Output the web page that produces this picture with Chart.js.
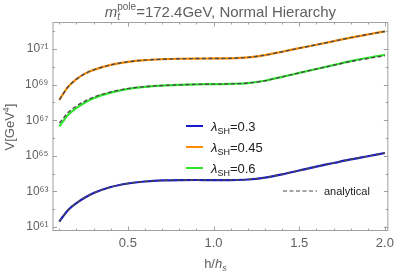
<!DOCTYPE html>
<html><head><meta charset="utf-8">
<script src="https://cdn.jsdelivr.net/npm/chart.js@4.4.1/dist/chart.umd.min.js"></script>
<style>html,body{margin:0;padding:0;background:#fff;}#wrap{width:399px;height:275px;position:relative;}</style>
</head><body><div id="wrap"><canvas id="c" width="399" height="275"></canvas></div>
<script>
// ---- data ----
const hValues = [0.10,0.12,0.15,0.20,0.25,0.30,0.40,0.50,0.60,0.70,0.80,0.90,1.00,1.10,1.20,1.30,1.40,1.50,1.60,1.70,1.80,1.90,2.00];
const V_lambda030 = [2.04e61,3.80e61,8.91e61,2.24e62,4.57e62,8.13e62,1.78e63,2.82e63,3.63e63,4.17e63,4.37e63,4.40e63,4.35e63,4.38e63,4.70e63,6.03e63,9.12e63,1.51e64,2.51e64,3.98e64,6.31e64,9.55e64,1.45e65];
const V_lambda045 = [1.41e68,2.82e68,7.41e68,2.04e69,4.17e69,6.76e69,1.29e70,1.91e70,2.40e70,2.69e70,2.86e70,2.93e70,2.96e70,3.02e70,3.39e70,4.57e70,7.08e70,1.12e71,1.74e71,2.75e71,4.37e71,6.61e71,9.77e71];
const V_lambda060 = [4.47e66,8.32e66,2.00e67,4.90e67,1.00e68,1.74e68,3.55e68,5.75e68,7.59e68,8.91e68,9.77e68,1.04e69,1.07e69,1.11e69,1.23e69,1.66e69,2.75e69,4.57e69,7.59e69,1.26e70,2.09e70,3.24e70,4.79e70];
const Vana_lambda030 = [2.04e61,3.80e61,8.91e61,2.24e62,4.57e62,8.13e62,1.78e63,2.82e63,3.63e63,4.17e63,4.37e63,4.40e63,4.35e63,4.38e63,4.70e63,6.03e63,9.12e63,1.51e64,2.51e64,3.98e64,6.31e64,9.55e64,1.45e65];
const Vana_lambda045 = [1.41e68,2.82e68,7.41e68,2.04e69,4.17e69,6.76e69,1.29e70,1.91e70,2.40e70,2.69e70,2.86e70,2.93e70,2.96e70,3.02e70,3.39e70,4.57e70,7.08e70,1.12e71,1.74e71,2.75e71,4.37e71,6.61e71,9.77e71];
const Vana_lambda060 = [7.08e66,1.20e67,2.69e67,6.31e67,1.20e68,2.00e68,3.89e68,6.03e68,7.76e68,8.91e68,9.77e68,1.04e69,1.07e69,1.11e69,1.23e69,1.66e69,2.75e69,4.57e69,7.59e69,1.23e70,2.00e70,2.95e70,4.27e70];
const legendLabels = ['0.3','0.45','0.6'];
const xTickValues = [0.1,0.2,0.3,0.4,0.5,0.6,0.7,0.8,0.9,1.0,1.1,1.2,1.3,1.4,1.5,1.6,1.7,1.8,1.9,2.0];
const xTickLabels = ['0.5','1.0','1.5','2.0'];
const yTickExponents = [61,63,65,67,69,71];
const yMinorExponents = [61,62,63,64,65,66,67,68,69,70,71,72];

const COL_BLUE = '#1818cc', COL_ORANGE = '#ff8c00', COL_GREEN = '#2ee62e', COL_DASH = '#4a4a4a';
const FONT = '"Liberation Sans", Arial, sans-serif';
const TXT = '#606060';

const toPts = arr => arr.map((v,i)=>({x:hValues[i], y:v}));
const supDigits = {'0':'⁰','1':'¹','2':'²','3':'³','4':'⁴','5':'⁵','6':'⁶','7':'⁷','8':'⁸','9':'⁹'};
const sup = s => String(s).split('').map(c=>supDigits[c]||c).join('');

function richText(ctx, parts, x, y, align) {
  let w = 0;
  const widths = parts.map(p => { ctx.font = (p.italic?'italic ':'') + p.size + 'px ' + FONT; return ctx.measureText(p.t).width; });
  widths.forEach(mw => { w += mw; });
  let cx = align === 'center' ? x - w/2 : (align === 'right' ? x - w : x);
  parts.forEach((p,i)=>{
    ctx.font = (p.italic?'italic ':'') + p.size + 'px ' + FONT;
    ctx.fillText(p.t, cx, y + (p.dy||0));
    cx += widths[i];
  });
}

const framePlugin = {
  id: 'frame',
  afterDatasetsDraw(chart) {
    const {ctx, chartArea: a, scales} = chart;
    ctx.save();
    ctx.strokeStyle = '#a0a0a0';
    ctx.lineWidth = 1;
    ctx.strokeRect(a.left+0.5, a.top+0.5, a.right-a.left-1, a.bottom-a.top-1);
    ctx.beginPath();
    scales.x.ticks.forEach(t => {
      const px = Math.round(scales.x.getPixelForValue(t.value)) + 0.5;
      const major = xTickLabels.includes(t.value.toFixed(1));
      const L = major ? 4.5 : 2.5;
      ctx.moveTo(px, a.bottom); ctx.lineTo(px, a.bottom - L);
      ctx.moveTo(px, a.top); ctx.lineTo(px, a.top + L);
    });
    scales.y.ticks.forEach(t => {
      const e = Math.round(Math.log10(t.value));
      const py = Math.round(scales.y.getPixelForValue(t.value)) + 0.5;
      const L = yTickExponents.includes(e) ? 4.5 : 2.5;
      ctx.moveTo(a.left, py); ctx.lineTo(a.left + L, py);
      ctx.moveTo(a.right, py); ctx.lineTo(a.right - L, py);
    });
    ctx.stroke();
    ctx.restore();
  },
  afterDraw(chart) {
    const {ctx, chartArea: a} = chart;
    ctx.save();
    ctx.fillStyle = TXT;
    ctx.textBaseline = 'alphabetic';
    // title
    const cx = (a.left + a.right)/2;
    ctx.font = '10px ' + FONT; const wPole = ctx.measureText('pole').width;
    ctx.font = 'italic 15px ' + FONT; const wm = ctx.measureText('m').width;
    ctx.font = '15px ' + FONT; const wRest = ctx.measureText('=172.4GeV, Normal Hierarchy').width;
    let x0 = cx - (wm + wPole + wRest)/2;
    const by = 17;
    ctx.font = 'italic 15px ' + FONT; ctx.fillText('m', x0, by);
    ctx.font = 'italic 10px ' + FONT; ctx.fillText('t', x0 + wm, by + 3);
    ctx.font = '10px ' + FONT; ctx.fillText('pole', x0 + wm, by - 7);
    ctx.font = '15px ' + FONT; ctx.fillText('=172.4GeV, Normal Hierarchy', x0 + wm + wPole, by);

    // x title
    richText(ctx, [
      {t:'h/', size:13},
      {t:'h', size:13, italic:true},
      {t:'s', size:9, italic:true, dy:3}
    ], (a.left + a.right)/2 - 5, 268, 'center');

    // y title
    ctx.save();
    ctx.translate(14, 127);
    ctx.rotate(-Math.PI/2);
    richText(ctx, [
      {t:'V[GeV', size:13},
      {t:'4', size:9, dy:-5},
      {t:']', size:13}
    ], 0, 0, 'center');
    ctx.restore();

    // legend
    const cols = [COL_BLUE, COL_ORANGE, COL_GREEN];
    const ys = [126, 147, 168];
    legendLabels.forEach((lab, i) => {
      ctx.strokeStyle = cols[i]; ctx.lineWidth = 2; ctx.setLineDash([]);
      ctx.beginPath(); ctx.moveTo(186, ys[i]); ctx.lineTo(203, ys[i]); ctx.stroke();
      ctx.fillStyle = '#202020';
      richText(ctx, [
        {t:'λ', size:13, italic:true},
        {t:'SH', size:9, dy:3},
        {t:'=' + lab, size:13}
      ], 211, ys[i] + 4.5, 'left');
    });
    ctx.strokeStyle = COL_DASH; ctx.lineWidth = 1.2; ctx.setLineDash([4,2.5]);
    ctx.beginPath(); ctx.moveTo(283, 191); ctx.lineTo(317, 191); ctx.stroke();
    ctx.setLineDash([]);
    ctx.font = '11px ' + FONT; ctx.fillStyle = '#202020';
    ctx.fillText('analytical', 324, 195);
    ctx.restore();
  }
};

const mk = (data, color, dashed) => ({
  data: toPts(data),
  borderColor: dashed ? COL_DASH : color,
  borderWidth: dashed ? 1.4 : 2.2,
  borderDash: dashed ? [4, 2.5] : [],
  pointRadius: 0,
  fill: false,
  cubicInterpolationMode: 'monotone',
  order: dashed ? 0 : 1
});

new Chart(document.getElementById('c'), {
  type: 'line',
  data: {
    datasets: [
      mk(Vana_lambda030, null, true),
      mk(Vana_lambda045, null, true),
      mk(Vana_lambda060, null, true),
      mk(V_lambda030, COL_BLUE, false),
      mk(V_lambda045, COL_ORANGE, false),
      mk(V_lambda060, COL_GREEN, false)
    ]
  },
  options: {
    responsive: false,
    animation: false,
    devicePixelRatio: 1,
    layout: { padding: { top: 22, right: 6, bottom: 0, left: 0 } },
    plugins: { legend: { display: false }, tooltip: { enabled: false }, title: { display: false } },
    scales: {
      x: {
        type: 'linear',
        min: 0.06, max: 2.02,
        bounds: 'data',
        grid: { display: false, drawTicks: false },
        border: { display: false },
        afterFit: s => { s.height = 44; },
        afterBuildTicks: s => { s.ticks = xTickValues.map(v => ({ value: v })); },
        ticks: {
          autoSkip: false,
          maxRotation: 0,
          padding: 5,
          color: TXT,
          font: { family: FONT, size: 13 },
          callback: v => {
            const lab = Number(v).toFixed(1);
            return xTickLabels.includes(lab) ? lab : '';
          }
        }
      },
      y: {
        type: 'logarithmic',
        min: Math.pow(10, 60.78), max: Math.pow(10, 72.52),
        bounds: 'data',
        grid: { display: false, drawTicks: false },
        border: { display: false },
        afterFit: s => { s.width = 52.5; },
        afterBuildTicks: s => { s.ticks = yMinorExponents.map(e => ({ value: Math.pow(10, e) })); },
        ticks: {
          autoSkip: false,
          padding: 4,
          color: TXT,
          font: { family: FONT, size: 12 },
          callback: v => {
            const e = Math.round(Math.log10(v));
            return yTickExponents.includes(e) ? '10' + sup(e) : '';
          }
        }
      }
    }
  },
  plugins: [framePlugin]
});
</script>
</body></html>
